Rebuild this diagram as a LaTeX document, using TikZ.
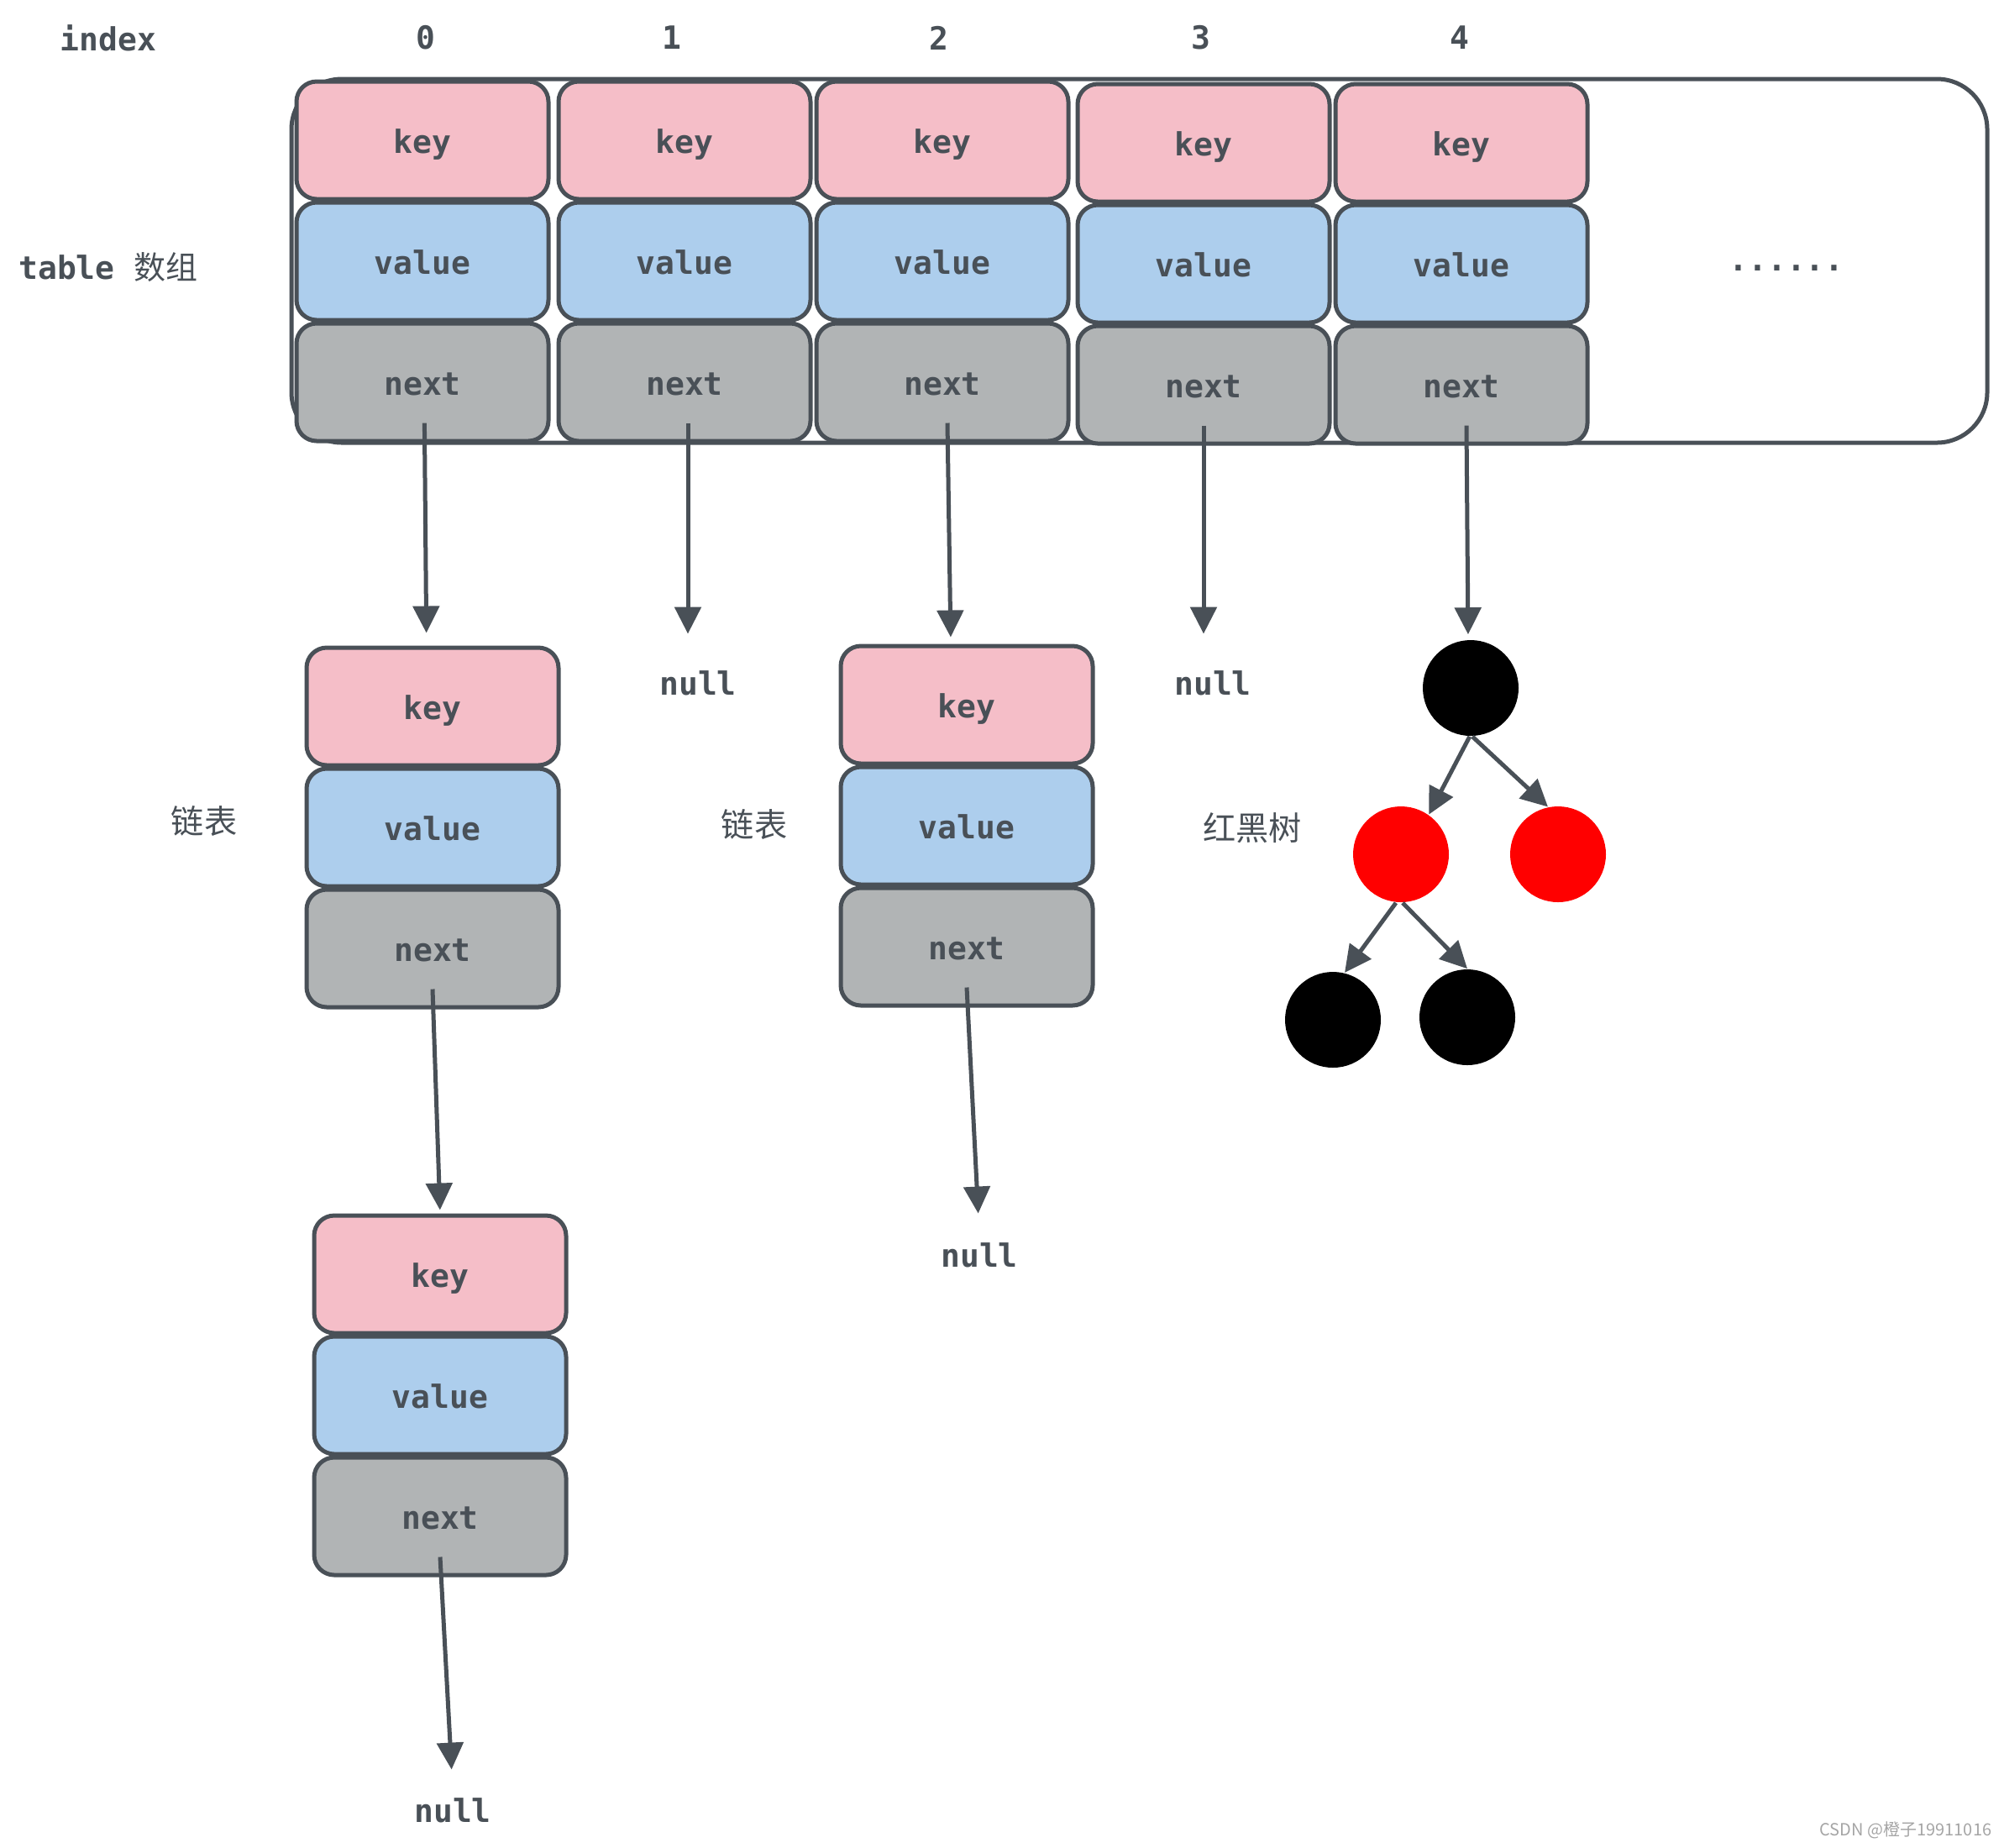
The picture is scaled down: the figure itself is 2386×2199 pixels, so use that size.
\documentclass[tikz,border=0pt]{standalone}
\usepackage{fontspec}
\setmonofont{DejaVu Sans Mono}
\newfontfamily\cjk{Noto Sans CJK SC}
\usetikzlibrary{arrows.meta}
\definecolor{ink}{RGB}{73,80,87}
\definecolor{kfill}{RGB}{245,190,200}
\definecolor{vfill}{RGB}{173,206,237}
\definecolor{nfill}{RGB}{177,180,181}
\definecolor{wmgray}{RGB}{165,165,165}
\tikzset{
 cell/.style={draw=ink, line width=1.25pt, rounded corners=6pt, minimum width=75pt, minimum height=35pt, inner sep=0pt, text height=8pt, text depth=0.3pt, font=\ttfamily\bfseries\fontsize{9.5}{11}\selectfont, text=ink},
 keycell/.style={cell, fill=kfill},
 valcell/.style={cell, fill=vfill},
 nextcell/.style={cell, fill=nfill},
 lbl/.style={inner sep=2pt, font=\ttfamily\bfseries\fontsize{9.5}{11}\selectfont, text=ink},
 cjklbl/.style={inner sep=2pt, font=\cjk\fontsize{9.8}{11}\selectfont, text=ink},
 arr/.style={draw=ink, line width=1.25pt, -{Triangle[length=8pt,width=7.8pt]}},
 ball/.style={circle, minimum size=28.5pt, inner sep=0pt},
}
\newcommand\stackcells[3]{%
 \node[keycell] (#1k) at (#2,#3) {key};
 \node[valcell] (#1v) at (#2,#3+144) {value};
 \node[nextcell] (#1n) at (#2,#3+288) {next};
}
\begin{document}
\begin{tikzpicture}[x=0.25pt,y=-0.25pt]
\useasboundingbox (0,0) rectangle (2386,2199);
% container
\draw[ink, line width=1.25pt, rounded corners=15pt] (347,94) rectangle (2366,527);
% headers
\node[lbl] (index) at (129,45) {index};
\node[lbl] (i0) at (507,45) {0};
\node[lbl] (i1) at (800,45) {1};
\node[lbl] (i2) at (1118,45) {2};
\node[lbl] (i3) at (1430,45) {3};
\node[lbl] (i4) at (1738,45) {4};
\node[lbl] (tablelbl) at (129,318) {table {\mdseries\cjk 数组}};
% table cells
\stackcells{t0}{503}{167}
\stackcells{t1}{815}{167}
\stackcells{t2}{1122}{167}
\stackcells{t3}{1433}{170}
\stackcells{t4}{1740}{170}
\node[lbl] (dots) at (2127,319) {......};
% chains
\stackcells{c0}{515}{841}
\stackcells{c0b}{524}{1517}
\stackcells{c2}{1151}{839}
% null labels
\node[lbl] (null1) at (831,813) {null};
\node[lbl] (null3) at (1444,813) {null};
\node[lbl] (null2) at (1166,1494) {null};
\node[lbl] (null0) at (539,2155) {null};
% chinese labels
\node[cjklbl] (ll0) at (243,977) {链表};
\node[cjklbl] (ll2) at (898,981) {链表};
\node[cjklbl] (rbt) at (1491,986) {红黑树};
% tree
\node[ball, fill=black] (root) at (1751,819) {};
\node[ball, fill=red] (rl) at (1668,1017) {};
\node[ball, fill=red] (rr) at (1855,1017) {};
\node[ball, fill=black] (bl) at (1587,1214) {};
\node[ball, fill=black] (br) at (1747,1211) {};
% arrows
\draw[arr, shorten >=3.75pt] ([xshift=0.6pt,yshift=6pt]t0n.south) -- ([xshift=1.2pt]t0n.south |- c0k.north);
\draw[arr, shorten >=8.75pt] ([xshift=1pt,yshift=6pt]t1n.south) -- ([xshift=1pt]t1n.south |- null1.north);
\draw[arr, shorten >=2pt] ([xshift=1.5pt,yshift=6pt]t2n.south) -- ([xshift=2.5pt]t2n.south |- c2k.north);
\draw[arr, shorten >=8.75pt] ([yshift=6pt]t3n.south) -- (t3n.south |- null3.north);
\draw[arr, shorten >=1.5pt] ([xshift=1.5pt,yshift=6pt]t4n.south) -- ([xshift=2pt]t4n.south |- root.north);
\draw[arr, shorten >=1pt] ([yshift=6pt]c0n.south) -- (c0bk.north);
\draw[arr, shorten >=6.25pt] ([yshift=6pt]c0bn.south) -- (null0.north);
\draw[arr, shorten >=6.5pt] ([yshift=6pt]c2n.south) -- (null2.north);
\draw[arr] ([xshift=-0.3pt]root.south) -- (rl.55);
\draw[arr] ([xshift=0.5pt]root.south) -- (rr.102);
\draw[arr] ([xshift=-1.5pt]rl.south) -- (bl.76);
\draw[arr] ([xshift=0.5pt]rl.south) -- (br.north);
% watermark
\node[font=\cjk\fontsize{5}{6}\selectfont, text=wmgray, anchor=east, inner sep=0pt] (wm) at (2372,2179) {CSDN @橙子19911016};
\end{tikzpicture}
\end{document}
